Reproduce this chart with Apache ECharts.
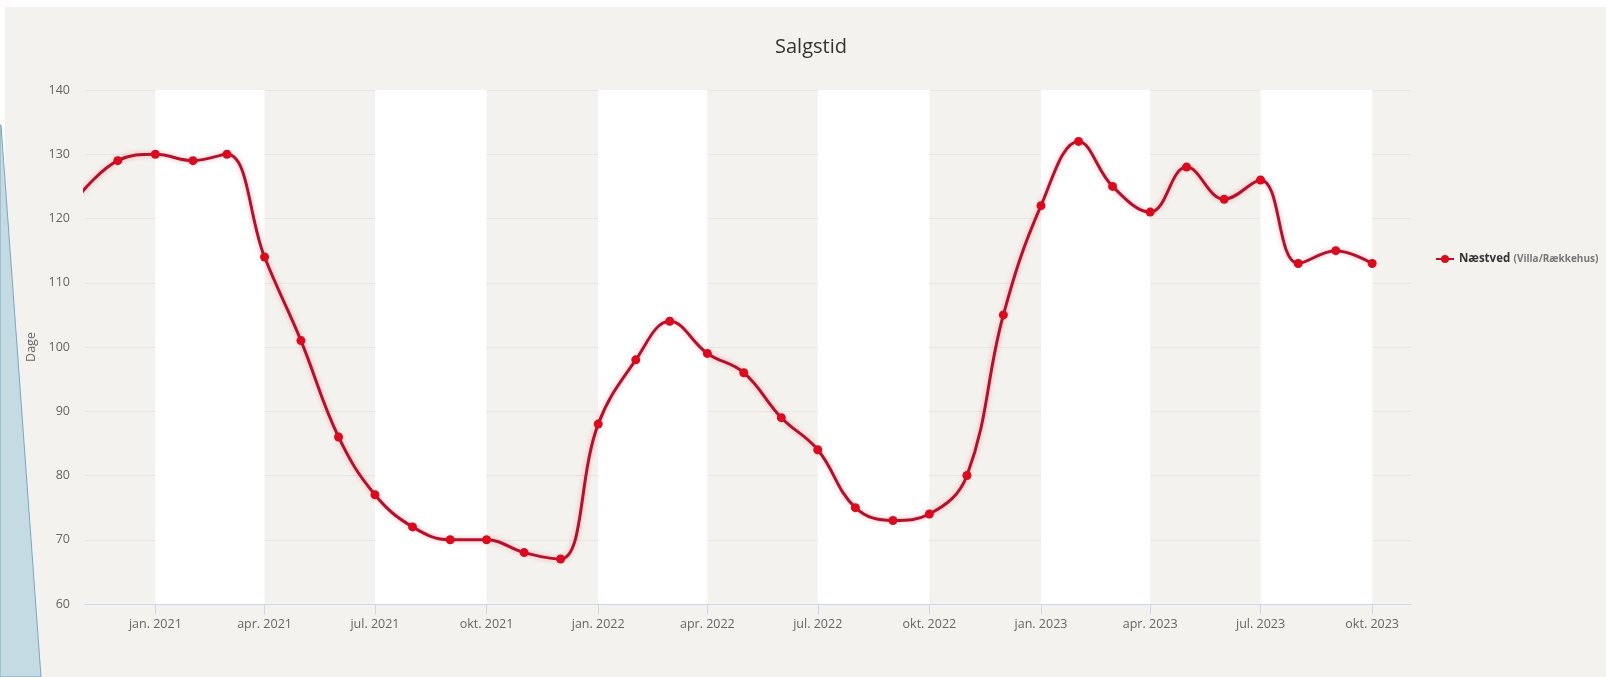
<!DOCTYPE html>
<html>
<head>
<meta charset="utf-8">
<script src="https://cdn.jsdelivr.net/npm/echarts@6/dist/echarts.min.js"></script>
<style>
html,body{margin:0;padding:0;background:#fff;}
#chart{width:1606px;height:677px;}
</style>
</head>
<body>
<div id="chart"></div>
<script>
// ---- data ----
const titleText = 'Salgstid';
const yAxisName = 'Dage';
const seriesName = 'Næstved';
const seriesSub = '(Villa/Rækkehus)';
const months = ['2020-11-01','2020-12-01','2021-01-01','2021-02-01','2021-03-01','2021-04-01','2021-05-01','2021-06-01','2021-07-01','2021-08-01','2021-09-01','2021-10-01','2021-11-01','2021-12-01','2022-01-01','2022-02-01','2022-03-01','2022-04-01','2022-05-01','2022-06-01','2022-07-01','2022-08-01','2022-09-01','2022-10-01','2022-11-01','2022-12-01','2023-01-01','2023-02-01','2023-03-01','2023-04-01','2023-05-01','2023-06-01','2023-07-01','2023-08-01','2023-09-01','2023-10-01'];
const values = [124,129,130,129,130,114,101,86,77,72,70,70,68,67,88,98,104,99,96,89,84,75,73,74,80,105,122,132,125,121,128,123,126,113,115,113];
const monthNames = ['jan.','feb.','mar.','apr.','maj','jun.','jul.','aug.','sep.','okt.','nov.','dec.'];
const xMin = '2020-11-04';
const xMax = '2023-11-02';
const yMin = 60, yMax = 140, yStep = 10;

const DAY = 86400000;
const chart = echarts.init(document.getElementById('chart'));
const seriesData = months.map((m, i) => [m, values[i]]);

chart.setOption({
  backgroundColor: '#ffffff',
  animation: false,
  graphic: [
    { type: 'rect', z: -100, silent: true, shape: { x: 5, y: 7, width: 1601, height: 670 }, style: { fill: '#f4f2ee' } },
    { type: 'polygon', z: -90, silent: true, shape: { points: [[0,125],[1,125],[41,677],[0,677]] }, style: { fill: '#c4dbe3', stroke: '#7aa6c0', lineWidth: 1 } }
  ],
  title: {
    text: titleText,
    left: 806, top: 32, textAlign: 'center',
    textStyle: { fontFamily: '"Open Sans", sans-serif', fontSize: 20, fontWeight: 'normal', color: '#333' }
  },
  legend: {
    orient: 'vertical', left: 1430, top: 248,
    itemWidth: 18, itemHeight: 10,
    data: [seriesName],
    formatter: function (n) { return '{a|' + n + '} {b|' + seriesSub + '}'; },
    textStyle: {
      rich: {
        a: { fontFamily: '"Open Sans", sans-serif', fontSize: 11.5, fontWeight: 'bold', color: '#333' },
        b: { fontFamily: '"Open Sans", sans-serif', fontSize: 10, fontWeight: 'bold', color: '#777' }
      }
    }
  },
  grid: { left: 85, right: 195, top: 90, bottom: 73, containLabel: false },
  xAxis: {
    type: 'time',
    min: xMin, max: xMax,
    minInterval: 88 * DAY, maxInterval: 95 * DAY,
    axisLine: { lineStyle: { color: '#ccd6eb', width: 1 } },
    axisTick: { show: true, length: 10, lineStyle: { color: '#ccd6eb' } },
    axisLabel: {
      showMinLabel: false, showMaxLabel: false,
      color: '#666', fontFamily: '"Open Sans", sans-serif', fontSize: 12.5, margin: 14,
      formatter: function (v) {
        const d = new Date(v);
        return monthNames[d.getMonth()] + ' ' + d.getFullYear();
      }
    },
    splitLine: { show: false },
    splitArea: { show: true, areaStyle: { color: ['rgba(0,0,0,0)', '#ffffff'] } }
  },
  yAxis: {
    type: 'value', min: yMin, max: yMax, interval: yStep,
    name: yAxisName, nameLocation: 'middle', nameGap: 43, nameRotate: 90,
    nameTextStyle: { color: '#666', fontFamily: '"Open Sans", sans-serif', fontSize: 12.5 },
    axisLine: { show: false }, axisTick: { show: false },
    axisLabel: { color: '#666', fontFamily: '"Open Sans", sans-serif', fontSize: 12.5, margin: 15 },
    splitLine: { lineStyle: { color: '#e6e6e6', width: 1 } }
  },
  series: [{
    name: seriesName,
    type: 'line',
    data: seriesData,
    smooth: 0.4,
    clip: true,
    symbol: 'circle', symbolSize: 9,
    lineStyle: { color: '#b3122b', width: 3, shadowColor: 'rgba(210,20,50,0.35)', shadowBlur: 5 },
    itemStyle: { color: '#da0a1f' }
  }]
});
</script>
</body>
</html>
